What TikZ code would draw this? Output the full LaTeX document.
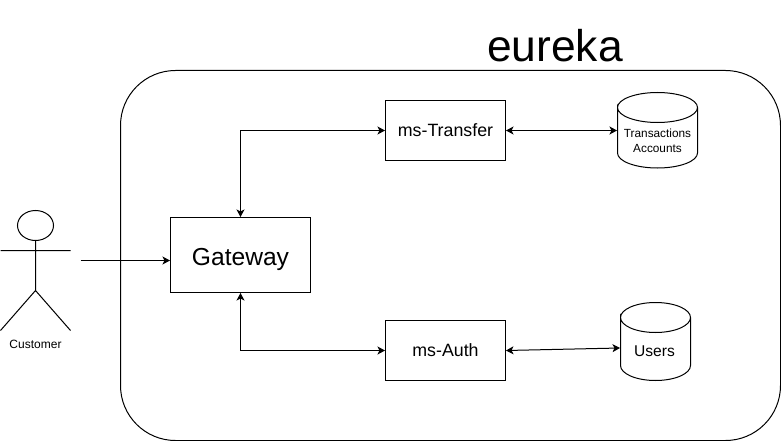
\documentclass[tikz,border=0pt]{standalone}
\usepackage{fontspec}
\setmainfont{Liberation Sans}
\usetikzlibrary{arrows.meta}
\tikzset{
  every path/.style={line width=1pt},
  boxnode/.style={draw=black,line width=1pt,inner sep=0pt,align=center},
  textonly/.style={inner sep=0pt,align=center},
  baselabel/.style={inner sep=0pt,anchor=base},
  arrowline/.style={draw=black,line width=1pt,-{Stealth[length=7.5pt,width=8pt,inset=2pt]}},
  biline/.style={draw=black,line width=1pt,{Stealth[length=7.5pt,width=8pt,inset=2pt]}-{Stealth[length=7.5pt,width=8pt,inset=2pt]}},
  dbfill/.style={draw=black,line width=1pt,fill=white}
}
\begin{document}
\begin{tikzpicture}[x=1pt,y=-1pt]
\useasboundingbox (0,0) rectangle (781,441);
% container
\draw[black,rounded corners=55pt] (120.5,70.5) rectangle (780.5,440.5);
\node[baselabel,font=\fontsize{44.4}{48}\selectfont] (eureka) at (555,61.5) {eureka};
% actor
\draw[black] (35.5,225.5) ellipse [x radius=18,y radius=15];
\draw[black] (35.5,240.5) -- (35.5,290.5) (0.5,250.5) -- (70.5,250.5) (0.5,330.5) -- (35.5,290.5) -- (70.5,330.5);
\node[baselabel,font=\fontsize{12}{14}\selectfont] (customer) at (35.5,348) {Customer};
\coordinate (actorhand) at (80.5,260.5);
% boxes
\node[boxnode,minimum width=140pt,minimum height=75pt] (gateway) at (240.5,255) {};
\node[baselabel,font=\fontsize{24.6}{28}\selectfont] (gatewaytext) at (240.5,265) {Gateway};
\node[boxnode,minimum width=120pt,minimum height=60pt] (transfer) at (445.5,130.5) {};
\node[baselabel,font=\fontsize{17.8}{20}\selectfont] (transfertext) at (445.5,136) {ms-Transfer};
\node[boxnode,minimum width=120pt,minimum height=60pt] (auth) at (445.5,350.5) {};
\node[baselabel,font=\fontsize{17.8}{20}\selectfont] (authtext) at (445.5,356) {ms-Auth};
% databases
\draw[dbfill] (617.5,107.5) arc [start angle=180,end angle=360,x radius=40,y radius=15] arc [start angle=0,end angle=180,x radius=40,y radius=15] -- (617.5,153) arc [start angle=180,end angle=0,x radius=40,y radius=15] -- (697.5,107.5);
\draw[dbfill] (620.5,317.5) arc [start angle=180,end angle=360,x radius=35,y radius=15] arc [start angle=0,end angle=180,x radius=35,y radius=15] -- (620.5,365.5) arc [start angle=180,end angle=0,x radius=35,y radius=15] -- (690.5,317.5);
\node[textonly,minimum width=80pt,minimum height=75pt] (db1) at (657.5,130.5) {};
\node[textonly,font=\fontsize{11.8}{15}\selectfont] (db1text) at (657.5,140.5) {Transactions\\Accounts};
\node[textonly,minimum width=70pt,minimum height=78pt] (db2) at (655.5,341.5) {};
\node[baselabel,font=\fontsize{15.6}{18}\selectfont] (db2text) at (654.5,356) {Users};
% connectors
\draw[arrowline] (actorhand) -- (gateway.west |- actorhand);
\draw[biline] (gateway.north) |- (transfer.west);
\draw[biline] (gateway.south) |- (auth.west);
\draw[biline] (transfer.east) -- (db1.west);
\draw[biline] (auth.east) -- ([yshift=2.5pt]db2.west |- auth.east);
\end{tikzpicture}
\end{document}
